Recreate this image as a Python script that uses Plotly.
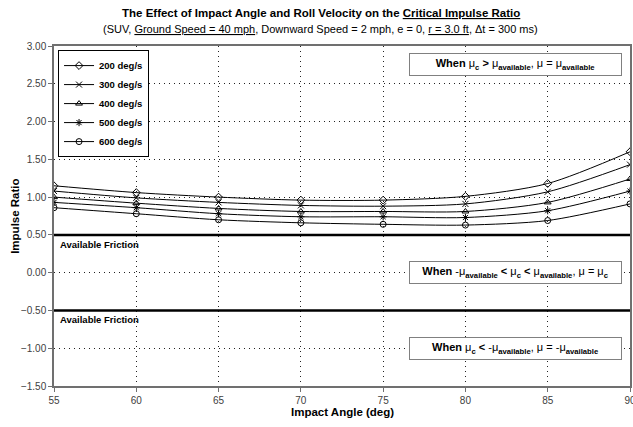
import plotly.graph_objects as go

# ---- data ----
angles = [55, 60, 65, 70, 75, 80, 85, 90]
roll_labels = ["200 deg/s", "300 deg/s", "400 deg/s", "500 deg/s", "600 deg/s"]
r200 = [1.15, 1.06, 1.00, 0.96, 0.96, 1.01, 1.18, 1.60]
r300 = [1.08, 0.99, 0.93, 0.89, 0.88, 0.91, 1.07, 1.43]
r400 = [1.00, 0.92, 0.85, 0.81, 0.81, 0.81, 0.93, 1.24]
r500 = [0.93, 0.86, 0.78, 0.74, 0.74, 0.73, 0.82, 1.08]
r600 = [0.86, 0.78, 0.70, 0.66, 0.64, 0.63, 0.69, 0.91]
series = [r200, r300, r400, r500, r600]
symbols = ["diamond-open", "x-thin-open", "triangle-up-open", "asterisk-open", "circle-open"]
available_friction = 0.5
y_ticks = [-1.5, -1.0, -0.5, 0.0, 0.5, 1.0, 1.5, 2.0, 2.5, 3.0]
x_ticks = [55, 60, 65, 70, 75, 80, 85, 90]

FONT = "Liberation Sans, Arial, sans-serif"

fig = go.Figure()
for name, vals, sym in zip(roll_labels, series, symbols):
    fig.add_trace(go.Scatter(
        x=angles, y=vals, name=name, mode="lines+markers",
        line=dict(color="black", width=1, shape="spline", smoothing=0.8),
        marker=dict(symbol=sym, size=6, color="black", line=dict(color="black", width=1)),
    ))

# available friction lines
for v in (available_friction, -available_friction):
    fig.add_shape(type="line", xref="paper", x0=0, x1=1, yref="y", y0=v, y1=v,
                  line=dict(color="black", width=2.5), layer="above")
    fig.add_annotation(xref="x", x=55, yref="y", y=v, xanchor="left", yanchor="top",
                       xshift=4, yshift=-2, showarrow=False,
                       text="<b>Available Friction</b>",
                       font=dict(family=FONT, size=9.5, color="black"))

box_style = dict(xref="paper", x=0.802, xanchor="center", yref="y", yanchor="middle",
                 showarrow=False, width=209, height=19,
                 bgcolor="white", bordercolor="#808080", borderwidth=1, borderpad=1,
                 font=dict(family=FONT, size=11, color="black"))
fig.add_annotation(y=2.76, text="<b>When</b> μ<sub><b>c</b></sub> <b>></b> μ<sub><b>available</b></sub>, μ = μ<sub><b>available</b></sub>", **box_style)
fig.add_annotation(y=0.0, text="<b>When</b> -μ<sub><b>available</b></sub> <b><</b> μ<sub><b>c</b></sub> <b><</b> μ<sub><b>available</b></sub>, μ = μ<sub><b>c</b></sub>", **box_style)
fig.add_annotation(y=-1.0, text="<b>When</b> μ<sub><b>c</b></sub> <b><</b> -μ<sub><b>available</b></sub>, μ = -μ<sub><b>available</b></sub>", **box_style)

# titles
fig.add_annotation(xref="paper", x=0.4635, yref="paper", y=1.097, yanchor="middle", showarrow=False,
                   text="<b>The Effect of Impact Angle and Roll Velocity on the <u>Critical Impulse Ratio</u></b>",
                   font=dict(family=FONT, size=11.5, color="black"))
fig.add_annotation(xref="paper", x=0.4635, yref="paper", y=1.051, yanchor="middle", showarrow=False,
                   text="(SUV, <u>Ground Speed = 40 mph</u>, Downward Speed = 2 mph, e = 0, <u>r = 3.0 ft</u>, Δt = 300 ms)",
                   font=dict(family=FONT, size=11, color="black"))
fig.add_annotation(xref="paper", x=0.5, yref="paper", y=-0.076, yanchor="middle", showarrow=False,
                   text="<b>Impact Angle (deg)</b>", font=dict(family=FONT, size=11.5, color="black"))
fig.add_annotation(xref="paper", x=-0.068, yref="paper", y=0.5, xanchor="center", yanchor="middle",
                   showarrow=False, textangle=-90,
                   text="<b>Impulse Ratio</b>", font=dict(family=FONT, size=11.5, color="black"))

axis_common = dict(showline=True, mirror=True, linecolor="#707070", linewidth=1.5,
                   showgrid=True, gridcolor="#222", gridwidth=1, griddash="1px,4px",
                   zeroline=False, ticks="outside", ticklen=4, tickcolor="#707070",
                   ticklabeloverflow="allow", automargin=False,
                   tickfont=dict(family=FONT, size=10, color="#404040"))
fig.update_xaxes(range=[55, 90], tickvals=x_ticks, **axis_common)
fig.update_yaxes(range=[-1.5, 3.0], tickvals=y_ticks, tickformat=".2f", **axis_common)

fig.update_layout(
    width=633, height=427,
    margin=dict(l=54, r=3, t=46, b=41, autoexpand=False),
    paper_bgcolor="white", plot_bgcolor="white",
    showlegend=True,
    legend=dict(x=0.007, y=0.988, xanchor="left", yanchor="top",
                bgcolor="white", bordercolor="black", borderwidth=1,
                font=dict(family=FONT, size=9.5, color="black", weight="bold"),
                itemwidth=30, tracegroupgap=0),
)

fig.write_html("out.html")
